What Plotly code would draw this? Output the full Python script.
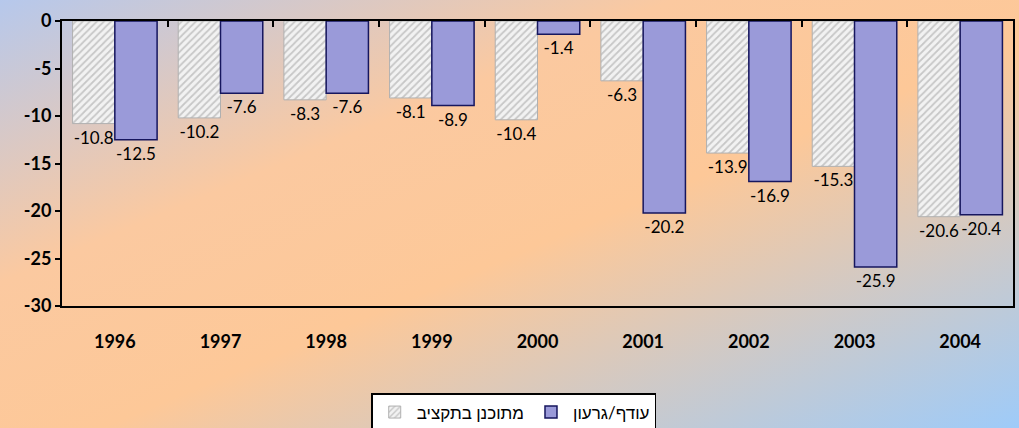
import plotly.graph_objects as go
import urllib.parse

years = ["1996", "1997", "1998", "1999", "2000", "2001", "2002", "2003", "2004"]
planned = [-10.8, -10.2, -8.3, -8.1, -10.4, -6.3, -13.9, -15.3, -20.6]
actual = [-12.5, -7.6, -7.6, -8.9, -1.4, -20.2, -16.9, -25.9, -20.4]
name_planned = "מתוכנן בתקציב"
name_actual = "עודף/גרעון"
y_ticks = [0, -5, -10, -15, -20, -25, -30]

W, H = 1019, 428
ml, mr, mt, mb = 62, 6, 21, 122
pw, ph = W - ml - mr, H - mt - mb

font_family = "Comic Sans MS, Lato, sans-serif"

svg = (
    '<svg xmlns="http://www.w3.org/2000/svg" width="1019" height="428" viewBox="0 0 1019 428" preserveAspectRatio="none">'
    '<defs><linearGradient id="g" x1="0" y1="0" x2="1" y2="1">'
    '<stop offset="0" stop-color="#b6c8ec"/>'
    '<stop offset="0.33" stop-color="#fbc9a0"/>'
    '<stop offset="0.55" stop-color="#fdc898"/>'
    '<stop offset="1" stop-color="#9ecbf9"/>'
    '</linearGradient></defs>'
    '<rect x="0" y="0" width="1019" height="428" fill="url(#g)"/></svg>'
)
bg_src = "data:image/svg+xml;charset=utf-8," + urllib.parse.quote(svg)

fig = go.Figure()
fig.add_trace(go.Bar(
    x=years, y=planned, name=name_planned,
    marker=dict(color="#eeeeee",
                line=dict(color="#b0b0b0", width=1),
                pattern=dict(shape="/", fgcolor="#9c9c9c", bgcolor="#f2f2f2", size=5, solidity=0.35)),
    text=[f"{v:.1f}" for v in planned], textposition="outside",
    textfont=dict(family=font_family, size=17, color="black"),
    cliponaxis=False,
))
fig.add_trace(go.Bar(
    x=years, y=actual, name=name_actual,
    marker=dict(color="#9a9ad9", line=dict(color="#16165e", width=1.5)),
    text=[f"{v:.1f}" for v in actual], textposition="outside",
    textfont=dict(family=font_family, size=17, color="black"),
    cliponaxis=False,
))
# helper trace for top tick axis
fig.add_trace(go.Scatter(x=years, y=[None] * len(years), xaxis="x2", showlegend=False,
                         hoverinfo="skip", mode="markers"))

fig.update_layout(
    width=W, height=H,
    margin=dict(l=ml, r=mr, t=mt, b=mb, autoexpand=False),
    paper_bgcolor="#fdc898",
    plot_bgcolor="rgba(0,0,0,0)",
    barmode="group", bargap=0.2, bargroupgap=0,
    font=dict(family=font_family, color="black"),
    images=[dict(source=bg_src, xref="paper", yref="paper",
                 x=-ml / pw, y=1 + mt / ph, sizex=W / pw, sizey=H / ph,
                 xanchor="left", yanchor="top", sizing="stretch", layer="below")],
    xaxis=dict(type="category", categoryorder="array", categoryarray=years,
               range=[-0.5, len(years) - 0.5],
               showline=True, linecolor="black", linewidth=2, mirror=True,
               ticks="", showgrid=False,
               tickfont=dict(family=font_family, size=18, color="black", weight="bold"),
               ticklabelstandoff=18),
    xaxis2=dict(type="category", overlaying="x", side="top", matches="x",
                showline=False, ticks="inside", tickson="boundaries", ticklen=6,
                tickwidth=2, tickcolor="black", showticklabels=False, showgrid=False),
    yaxis=dict(range=[-30, 0], tickvals=y_ticks, ticktext=[str(v) for v in y_ticks],
               showline=True, linecolor="black", linewidth=2, mirror=True,
               ticks="outside", ticklen=5, tickwidth=2, tickcolor="black",
               showgrid=False, zeroline=False,
               tickfont=dict(family=font_family, size=18, color="black", weight="bold")),
    legend=dict(orientation="h", x=0.475, xanchor="center",
                yref="container", y=1 - 393 / H, yanchor="top",
                bgcolor="white", bordercolor="black", borderwidth=1.5,
                font=dict(family=font_family, size=17, color="black"),
                itemwidth=34, traceorder="normal"),
)

fig.write_html("out.html", config={"displayModeBar": False},
               post_script="document.body.style.margin='0';document.body.style.overflow='hidden';")
